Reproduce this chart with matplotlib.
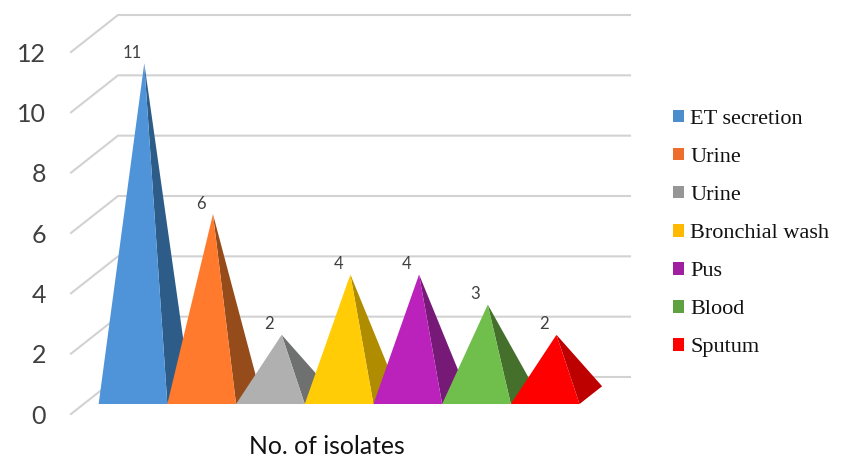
import matplotlib
matplotlib.use("Agg")
import matplotlib.pyplot as plt
from matplotlib.patches import Polygon, Patch

categories = ["ET secretion", "Urine", "Urine", "Bronchial wash", "Pus", "Blood", "Sputum"]
values = [11, 6, 2, 4, 4, 3, 2]
front_colors = ["#4f94d8", "#ff7a2d", "#b0b0b0", "#ffcc05", "#bb22bb", "#70bf4d", "#ff0000"]
side_colors = ["#2d5c88", "#954b1a", "#6f7070", "#b08c00", "#771a77", "#44702c", "#bd0000"]
legend_colors = ["#4a8ccc", "#ed6d2d", "#969696", "#ffb900", "#a01fa0", "#5fa040", "#ff0000"]
y_ticks = [0, 2, 4, 6, 8, 10, 12]
x_label = "No. of isolates"

W, H = 848, 470
fig = plt.figure(figsize=(W / 100, H / 100), dpi=100, facecolor="white")
L, R, B, T = 71, 583, 414, 52
ax = fig.add_axes([L / W, 1 - B / H, (R - L) / W, (B - T) / H])
unit_x = 68.7
unit_y = (B - T) / 12
ax.set_xlim((L - 120.3) / unit_x, (R - 120.3) / unit_x)
ax.set_ylim(0, 12)
for s in ax.spines.values():
    s.set_visible(False)

# oblique projection of the 3D box
DX, DY = 47 / unit_x, 37 / unit_y
D_FRONT, D_APEX, D_BACK = 0.27, 0.51, 0.75
x0, x1 = ax.get_xlim()

for v in y_ticks:
    ax.plot([x0, x0 + DX, x1 + DX], [v, v + DY, v + DY], color="#d2d2d2", lw=1.5,
            clip_on=False, zorder=1, solid_joinstyle="miter")

for i, (v, fc, sc) in enumerate(zip(values, front_colors, side_colors)):
    apex = (i + D_APEX * DX, v + D_APEX * DY)
    fl = (i - 0.5 + D_FRONT * DX, D_FRONT * DY)
    fr = (i + 0.5 + D_FRONT * DX, D_FRONT * DY)
    br = (i + 0.5 + D_BACK * DX, D_BACK * DY)
    ax.add_patch(Polygon([apex, fr, br], closed=True, fc=sc, ec="none", clip_on=False, zorder=2 + i))
    ax.add_patch(Polygon([apex, fl, fr], closed=True, fc=fc, ec="none", clip_on=False, zorder=2 + i))
    ax.text(i + D_FRONT * DX - 1 / unit_x, apex[1] + 10.5 / unit_y, str(v), ha="center", va="center",
            family="Lato", fontsize=12, color="#404040", zorder=20)

ax.set_xticks([])
ax.set_yticks(y_ticks)
ax.tick_params(axis="y", length=0, pad=18, labelsize=18, labelcolor="#404040")
for t in ax.get_yticklabels():
    t.set_family("Lato")
ax.set_xlabel(x_label, family="Lato", fontsize=17.8, color="#111111", labelpad=15)

handles = [Patch(fc=c, ec="none") for c in legend_colors]
leg = fig.legend(handles, categories, loc="center left", bbox_to_anchor=(673 / W, 1 - 233.5 / H),
                 frameon=False, prop={"family": "Liberation Serif", "size": 16},
                 labelspacing=0.85, handlelength=0.5, handleheight=0.5, handletextpad=0.27,
                 borderpad=0, borderaxespad=0)
for t in leg.get_texts():
    t.set_color("#111111")

fig.savefig("out.png", dpi=100)
